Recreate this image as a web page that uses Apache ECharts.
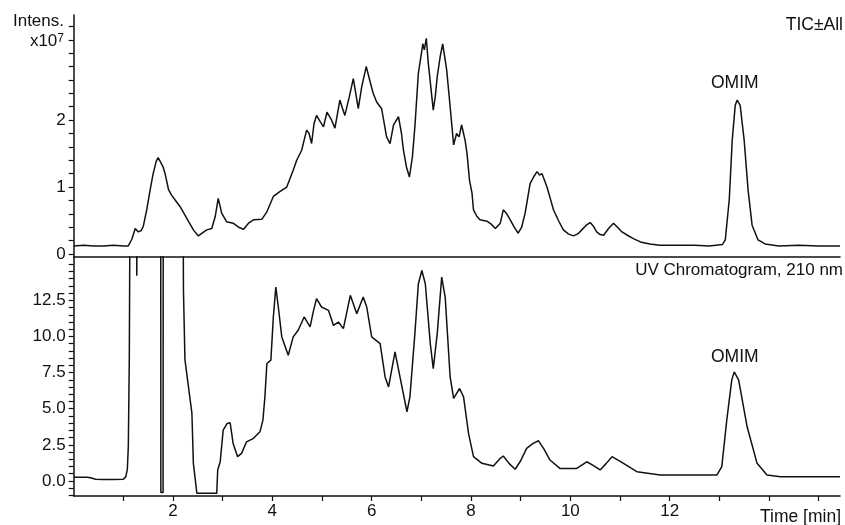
<!DOCTYPE html>
<html>
<head>
<meta charset="utf-8">
<script src="https://cdn.jsdelivr.net/npm/echarts@6/dist/echarts.min.js"></script>
<style>
  html, body { margin: 0; padding: 0; background: #fff; }
  #chart { width: 845px; height: 525px; }
</style>
</head>
<body>
<div id="chart"></div>
<script>
// TIC trace (x10^7 counts) vs retention time [min]
const ticTime = [0.00,0.20,0.40,0.60,0.80,1.00,1.10,1.17,1.24,1.30,1.36,1.40,1.47,1.54,1.60,1.66,1.70,1.74,1.80,1.84,1.91,1.97,2.05,2.14,2.28,2.41,2.51,2.60,2.68,2.78,2.85,2.91,2.98,3.08,3.21,3.32,3.42,3.52,3.62,3.79,3.89,4.02,4.15,4.29,4.42,4.49,4.59,4.69,4.74,4.79,4.84,4.89,4.96,5.03,5.10,5.18,5.26,5.36,5.41,5.46,5.55,5.63,5.68,5.73,5.80,5.89,5.97,6.03,6.10,6.20,6.30,6.37,6.44,6.54,6.60,6.64,6.70,6.76,6.82,6.87,6.94,7.03,7.06,7.10,7.14,7.19,7.24,7.28,7.32,7.38,7.43,7.51,7.58,7.65,7.71,7.76,7.81,7.88,7.92,7.97,8.02,8.05,8.12,8.18,8.32,8.40,8.49,8.59,8.65,8.72,8.79,8.87,8.95,9.02,9.09,9.19,9.26,9.33,9.38,9.43,9.53,9.60,9.66,9.76,9.86,9.96,10.06,10.15,10.23,10.32,10.40,10.47,10.53,10.60,10.67,10.77,10.87,10.95,11.04,11.15,11.27,11.41,11.60,11.80,12.10,12.50,12.80,13.06,13.12,13.20,13.26,13.32,13.36,13.42,13.50,13.58,13.66,13.78,13.92,14.20,14.60,15.00,15.43];
const ticIntens = [0.12,0.13,0.12,0.12,0.13,0.12,0.12,0.22,0.38,0.33,0.35,0.41,0.66,0.96,1.20,1.38,1.44,1.43,1.30,1.20,0.96,0.88,0.80,0.71,0.53,0.36,0.27,0.32,0.36,0.38,0.56,0.83,0.61,0.48,0.46,0.40,0.37,0.46,0.51,0.52,0.63,0.86,0.93,1.00,1.25,1.40,1.55,1.85,1.80,1.65,1.95,2.07,1.98,1.90,2.12,2.02,1.88,2.30,2.18,2.07,2.35,2.62,2.40,2.17,2.50,2.80,2.57,2.40,2.27,2.17,1.75,1.65,1.93,2.05,1.80,1.55,1.30,1.15,1.45,1.90,2.70,3.14,3.05,3.22,2.85,2.50,2.15,2.35,2.65,2.95,3.14,2.75,2.20,1.63,1.80,1.75,1.93,1.70,1.50,1.10,0.91,0.66,0.56,0.51,0.49,0.45,0.38,0.46,0.66,0.60,0.51,0.40,0.31,0.40,0.61,1.05,1.15,1.23,1.18,1.20,1.00,0.82,0.66,0.50,0.36,0.30,0.27,0.30,0.36,0.43,0.47,0.41,0.33,0.29,0.28,0.38,0.46,0.40,0.33,0.28,0.23,0.18,0.15,0.13,0.13,0.13,0.12,0.14,0.21,0.81,1.70,2.22,2.30,2.22,1.70,0.95,0.43,0.21,0.15,0.12,0.13,0.12,0.12];

// UV chromatogram, 210 nm (off-scale parts go past the top of the panel)
const uvTime = [0.00,0.28,0.30,0.36,0.44,0.60,0.80,1.00,1.05,1.08,1.10,1.12,1.16,1.26,1.27,1.29,1.30,1.75,1.755,1.80,1.805,2.18,2.21,2.24,2.30,2.38,2.41,2.48,2.88,2.90,2.95,3.01,3.09,3.15,3.21,3.30,3.38,3.48,3.62,3.75,3.81,3.85,3.89,3.97,4.02,4.07,4.12,4.19,4.32,4.42,4.52,4.64,4.76,4.83,4.89,4.99,5.13,5.23,5.33,5.43,5.57,5.70,5.83,5.90,6.00,6.17,6.27,6.34,6.47,6.57,6.71,6.77,6.87,6.94,7.01,7.08,7.18,7.24,7.32,7.41,7.48,7.58,7.65,7.77,7.85,7.95,8.05,8.22,8.45,8.59,8.65,8.77,8.89,9.00,9.12,9.25,9.36,9.47,9.59,9.79,10.13,10.33,10.45,10.60,10.72,10.84,11.07,11.34,11.81,12.95,13.05,13.15,13.25,13.30,13.39,13.56,13.76,13.96,14.23,15.43];
const uvAbs = [0.25,0.25,0.12,0.20,0.12,0.10,0.10,0.12,0.30,0.80,2.40,8.60,40,40,14.2,14.2,40,40,-0.8,-0.8,40,40,13.2,8.4,6.8,4.7,1.2,-0.85,-0.85,0.76,1.33,3.52,3.98,4.03,2.60,1.68,1.91,2.71,2.95,3.40,4.21,5.82,8.13,8.36,11.35,13.42,12.04,9.97,8.70,9.97,10.43,11.35,10.66,11.81,12.62,12.04,11.81,10.77,11.00,10.54,12.85,11.58,12.73,12.04,9.97,9.51,7.20,6.51,8.93,7.20,4.79,5.82,10.20,13.65,14.57,13.65,9.51,7.78,10.20,14.11,12.73,7.20,5.71,6.40,5.82,3.29,1.68,1.22,1.04,1.57,1.73,1.20,0.81,1.40,2.26,2.60,2.78,2.20,1.45,0.87,0.87,1.33,1.10,0.76,1.20,1.68,1.22,0.64,0.41,0.41,0.99,4.21,6.98,7.55,6.98,3.75,1.22,0.41,0.30,0.30];

// axis ticks and labels
const timeTicks = [1,2,3,4,5,6,7,8,9,10,11,12,13,14,15];
const timeLabels = [2,4,6,8,10,12];
const ticTicks = [0,0.2,0.4,0.6,0.8,1.0,1.2,1.4,1.6,1.8,2.0,2.2,2.4,2.6,2.8,3.0,3.2,3.4];
const ticLabels = [0,1,2];
const uvTicks = [-1.0,-0.5,0,0.5,1.0,1.5,2.0,2.5,3.0,3.5,4.0,4.5,5.0,5.5,6.0,6.5,7.0,7.5,8.0,8.5,9.0,9.5,10.0,10.5,11.0,11.5,12.0,12.5,13.0,13.5,14.0,14.5,15.0];
const uvLabels = [0,2.5,5,7.5,10,12.5];

const FONT = "Liberation Sans, Arial, sans-serif";
const ink = "#111";

const chart = echarts.init(document.getElementById("chart"));

const pairs = (xs, ys) => xs.map((x, i) => [x, ys[i]]);

const yAxisBase = {
  type: "value",
  axisLine: { show: true, lineStyle: { color: ink, width: 1.5 } },
  axisTick: { show: true, length: 5, lineStyle: { color: ink, width: 1.2 } },
  axisLabel: { color: ink, fontSize: 17, fontFamily: FONT, margin: 8 },
  splitLine: { show: false },
};

const option = {
  backgroundColor: "#fff",
  animation: false,
  grid: [
    { left: 73.7, right: 5, top: 15, height: 242 },
    { left: 73.7, right: 5, top: 257, height: 239 },
  ],
  xAxis: [
    {
      type: "value", gridIndex: 0, min: 0, max: 15.43,
      axisLine: { show: true, onZero: false, lineStyle: { color: ink, width: 1.5 } },
      axisTick: { show: false },
      axisLabel: { show: false },
      splitLine: { show: false },
    },
    {
      type: "value", gridIndex: 1, min: 0, max: 15.43,
      axisLine: { show: true, onZero: false, lineStyle: { color: ink, width: 1.5 } },
      axisTick: { show: true, length: 5, customValues: timeTicks, lineStyle: { color: ink, width: 1.2 } },
      axisLabel: { color: ink, fontSize: 17, fontFamily: FONT, margin: 7, customValues: timeLabels },
      splitLine: { show: false },
    },
  ],
  yAxis: [
    Object.assign({}, yAxisBase, {
      gridIndex: 0, min: -0.045, max: 3.57,
      axisTick: Object.assign({}, yAxisBase.axisTick, { customValues: ticTicks }),
      axisLabel: Object.assign({}, yAxisBase.axisLabel, { customValues: ticLabels }),
    }),
    Object.assign({}, yAxisBase, {
      gridIndex: 1, min: -1.04, max: 15.5,
      axisTick: Object.assign({}, yAxisBase.axisTick, { customValues: uvTicks }),
      axisLabel: Object.assign({}, yAxisBase.axisLabel, {
        customValues: uvLabels,
        formatter: (v) => Number(v).toFixed(1),
      }),
    }),
  ],
  series: [
    {
      name: "TIC±All", type: "line", xAxisIndex: 0, yAxisIndex: 0,
      data: pairs(ticTime, ticIntens),
      showSymbol: false, clip: true,
      lineStyle: { color: ink, width: 1.5 },
    },
    {
      name: "UV Chromatogram, 210 nm", type: "line", xAxisIndex: 1, yAxisIndex: 1,
      data: pairs(uvTime, uvAbs),
      showSymbol: false, clip: true,
      lineStyle: { color: ink, width: 1.5 },
    },
  ],
  graphic: [
    { type: "text", right: 781, top: 13, style: { text: "Intens.", fill: ink, font: "17px " + FONT } },
    {
      type: "text", right: 781, top: 33,
      style: {
        text: "{a|x10}{s|7}", fill: ink,
        rich: {
          a: { fontSize: 17, fontFamily: FONT, fill: ink, verticalAlign: "bottom" },
          s: { fontSize: 12, fontFamily: FONT, fill: ink, verticalAlign: "top" },
        },
      },
    },
    { type: "text", right: 2, top: 16, style: { text: "TIC±All", fill: ink, font: "17.5px " + FONT } },
    { type: "text", left: 711, top: 74, style: { text: "OMIM", fill: ink, font: "17.5px " + FONT } },
    { type: "text", right: 2, top: 262, style: { text: "UV Chromatogram, 210 nm", fill: ink, font: "17px " + FONT } },
    { type: "text", left: 711, top: 348, style: { text: "OMIM", fill: ink, font: "17.5px " + FONT } },
    { type: "text", right: 4, top: 508, style: { text: "Time [min]", fill: ink, font: "17.5px " + FONT } },
  ],
};

chart.setOption(option);
</script>
</body>
</html>
